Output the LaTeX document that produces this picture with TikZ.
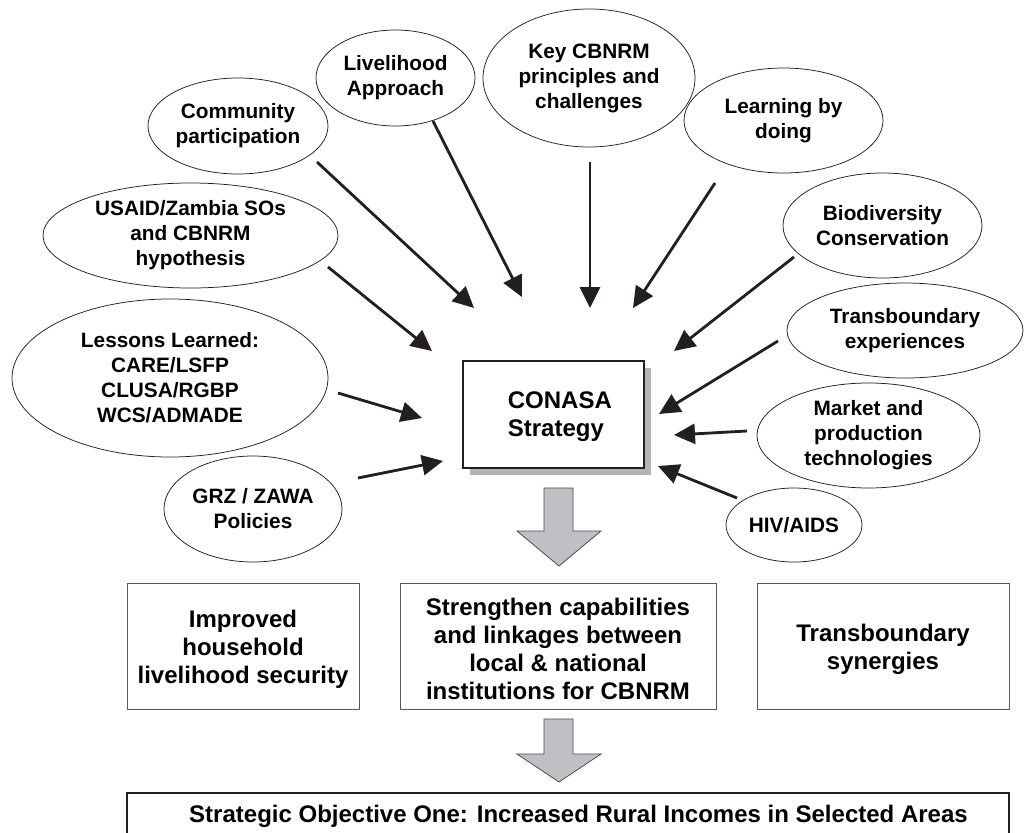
\documentclass[tikz,border=0pt]{standalone}
\usepackage{fontspec}
\setmainfont{Liberation Sans}
\usetikzlibrary{arrows.meta,shapes.geometric}
\definecolor{arrowfill}{HTML}{C0C0C4}
\definecolor{shadowgray}{HTML}{B4B4B8}
\definecolor{ink}{HTML}{231F20}
\newcommand{\lowerstrut}{\rule{0pt}{24pt}}
\begin{document}
\begin{tikzpicture}[x=1pt,y=-1pt,
  oval/.style={ellipse, draw=ink, line width=0.75pt, inner sep=0pt, align=center,
    font=\bfseries\fontsize{20.8}{25}\selectfont},
  feed/.style={draw=ink, line width=2.8pt, -{Triangle[length=21pt,width=20pt]}},
  outbox/.style={rectangle, draw=black!65, line width=1pt, inner sep=0pt, align=center,
    font=\bfseries\fontsize{24}{28}\selectfont},
  blockarrow/.style={fill=arrowfill, draw=black!70, line width=0.8pt, line join=miter},
]
\useasboundingbox (0,0) rectangle (1026,833);
\fill[white] (0,0) rectangle (1026,833);

% ellipses
\node[oval, minimum width=159pt, minimum height=96pt] (livelihood) at (395.5,78) {Livelihood\\Approach};
\node[oval, minimum width=180pt, minimum height=96pt] (community) at (238,126) {Community\\participation};
\node[oval, minimum width=295pt, minimum height=105pt] (usaid) at (190.5,235.5) {USAID/Zambia SOs\\and CBNRM\\hypothesis};
\node[oval, minimum width=316pt, minimum height=158pt] (lessons) at (170,378) {Lessons Learned:\\CARE/LSFP\\CLUSA/RGBP\\WCS/ADMADE};
\node[oval, minimum width=178pt, minimum height=106pt] (grz) at (253,509) {GRZ / ZAWA\\Policies};
\node[oval, minimum width=212pt, minimum height=138pt] (key) at (589,78) {Key CBNRM\\principles and\\challenges};
\node[oval, minimum width=199pt, minimum height=105pt] (learning) at (783.5,120.5) {Learning by\\doing};
\node[oval, minimum width=199pt, minimum height=105pt] (biodiv) at (882.5,225.5) {Biodiversity\\Conservation};
\node[oval, minimum width=236pt, minimum height=95pt] (transb) at (905,330.5) {Transboundary\\experiences};
\node[oval, minimum width=223pt, minimum height=105pt] (market) at (868.5,435.5) {Market and\\production\\technologies};
\node[oval, minimum width=136pt, minimum height=74pt] (hiv) at (794,525) {HIV/AIDS};

% central box with shadow
\fill[shadowgray] (470,368) rectangle (651,475);
\node[rectangle, draw=ink, line width=2.6pt, fill=white, minimum width=181pt, minimum height=107pt, inner sep=0pt] (conasa) at (553.5,414.5) {};
\node[anchor=west, align=left, inner sep=0pt, font=\bfseries\fontsize{24}{28}\selectfont] (conasatext) at ([xshift=46pt,yshift=-2.5pt]conasa.west) {CONASA\\Strategy};

% feeding arrows (free start and end points)
\coordinate (s1) at (317,162);  \coordinate (t1) at (474,308);
\coordinate (s2) at (433,121);  \coordinate (t2) at (522,297);
\coordinate (s3) at (328,267);  \coordinate (t3) at (432,351);
\coordinate (s4) at (338,393);  \coordinate (t4) at (422,418);
\coordinate (s5) at (358,478);  \coordinate (t5) at (443,461);
\coordinate (s6) at (590,162);  \coordinate (t6) at (590,308);
\coordinate (s7) at (715,183);  \coordinate (t7) at (633,308);
\coordinate (s8) at (794,257);  \coordinate (t8) at (674,351);
\coordinate (s9) at (778,341);  \coordinate (t9) at (659,414);
\coordinate (s10) at (747,431); \coordinate (t10) at (674,435);
\coordinate (s11) at (737,498); \coordinate (t11) at (658,466);
\foreach \i in {1,...,11} {\draw[feed] (s\i) -- (t\i);}

% block arrows
\draw[blockarrow] (544,488) -- (573,488) -- (573,531) -- (601,531) -- (559,566) -- (517,531) -- (544,531) -- cycle;
\draw[blockarrow] (544,719) -- (573,719) -- (573,754) -- (601,754) -- (559,782) -- (517,754) -- (544,754) -- cycle;

% outcome boxes
\node[outbox, minimum width=232pt, minimum height=126pt] (household) at (243,646) {\lowerstrut Improved\\household\\livelihood security};
\node[outbox, minimum width=316pt, minimum height=126pt] (capab) at (558,646) {\lowerstrut Strengthen capabilities\\and linkages between\\local \& national\\institutions for CBNRM};
\node[outbox, minimum width=252pt, minimum height=126pt] (synerg) at (883,646) {\lowerstrut Transboundary\\synergies};

% strategic objective box
\node[rectangle, draw=ink, line width=1.2pt, minimum width=882pt, minimum height=60pt, inner sep=0pt] (so) at (568,823) {};
\node[inner sep=0pt, font=\bfseries\fontsize{24}{28}\selectfont] (sotext) at (578.5,816) {Strategic Objective One: Increased Rural Incomes in Selected Areas};
\end{tikzpicture}
\end{document}
